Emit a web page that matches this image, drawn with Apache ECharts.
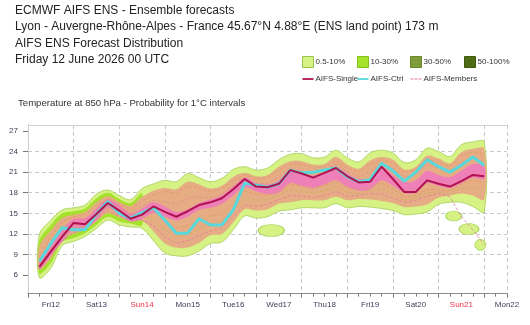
<!DOCTYPE html>
<html>
<head>
<meta charset="utf-8">
<script src="https://cdn.jsdelivr.net/npm/echarts@6/dist/echarts.min.js"></script>
<style>
  html, body { margin: 0; padding: 0; background: #fff; }
  #chart { width: 530px; height: 325px; }
</style>
</head>
<body>
<div id="chart"></div>
<script>
// forecast steps (hours from Fri 12 June 00 UTC)
const hours = [6, 12, 18, 24, 30, 36, 42, 48, 54, 60, 66, 72, 78, 84, 90, 96, 102, 108, 114, 120,
  126, 132, 138, 144, 150, 156, 162, 168, 174, 180, 186, 192, 198, 204, 210, 216, 222, 228, 234, 240];

const dayLabels = ["Fri12", "Sat13", "Sun14", "Mon15", "Tue16", "Wed17", "Thu18", "Fri19", "Sat20", "Sun21", "Mon22"];
const dayLabelHours = [12, 36, 60, 84, 108, 132, 156, 180, 204, 228, 252];
const yTicks = [6, 9, 12, 15, 18, 21, 24, 27];

// AIFS-Single / AIFS-Ctrl
const single = [7.2, 9.4, 11.6, 13.6, 13.4, 14.9, 16.5, 15.4, 14.2, 14.8, 16.0, 15.2, 14.5, 15.3, 16.2, 16.6, 17.2, 18.5, 20.0, 18.9,
  18.8, 19.3, 21.3, 20.8, 20.2, 20.9, 21.6, 20.4, 19.5, 19.6, 21.8, 20.0, 18.1, 18.1, 19.8, 19.3, 18.9, 19.7, 20.6, 20.4];
const ctrl = [8.0, 10.6, 12.9, 12.6, 12.6, 14.9, 16.7, 15.0, 14.3, 15.1, 15.8, 14.0, 12.1, 12.1, 14.2, 13.3, 13.3, 15.5, 19.4, 19.1,
  18.8, 19.3, 21.3, 20.9, 21.0, 21.3, 21.6, 20.3, 19.6, 19.9, 22.3, 21.2, 19.7, 21.0, 22.8, 21.8, 21.0, 22.0, 23.2, 22.0];

// 0.5-10% envelope
const outerHi = [11.9, 14.0, 15.5, 15.8, 16.2, 17.8, 18.4, 17.6, 17.0, 18.6, 19.3, 19.8, 19.6, 20.8, 20.2, 19.6, 20.1, 21.4, 21.8, 21.3,
  21.6, 22.8, 23.6, 23.7, 23.1, 23.2, 24.2, 23.1, 22.5, 23.8, 24.2, 23.8, 22.4, 22.8, 24.5, 24.0, 23.3, 25.0, 25.4, 25.4];
const outerLo = [5.6, 7.0, 10.3, 10.9, 11.6, 12.8, 14.0, 13.3, 13.0, 12.8, 11.0, 9.2, 8.8, 8.8, 9.5, 10.6, 10.8, 12.6, 14.6, 14.3,
  14.5, 15.3, 15.5, 15.8, 15.8, 15.8, 16.4, 15.8, 16.0, 15.9, 15.7, 15.4, 14.8, 14.9, 15.2, 16.3, 16.6, 16.6, 16.0, 15.2];

// 10-30% (visible at the start only)
const tenHours = [6, 12, 18, 24, 30, 36, 42, 48, 54, 60];
const tenHi = [11.0, 13.3, 15.0, 15.3, 15.7, 17.2, 18.0, 17.1, 16.5, 17.9];
const tenLo = [6.2, 7.7, 10.8, 11.4, 12.1, 13.3, 14.5, 13.8, 13.5, 13.3];

// spread of the members
const memberHi = [10.2, 12.5, 14.3, 14.8, 15.2, 16.6, 17.5, 16.7, 16.1, 17.4, 18.3, 18.7, 18.5, 19.6, 19.2, 18.6, 19.0, 20.3, 20.9, 20.4,
  20.6, 21.8, 22.6, 22.6, 22.1, 22.2, 23.2, 22.1, 21.5, 22.7, 23.2, 22.8, 21.4, 21.8, 23.4, 23.0, 22.3, 23.9, 24.4, 24.4];
const memberLo = [6.8, 8.4, 11.4, 12.0, 12.6, 13.8, 15.0, 14.4, 14.0, 13.9, 12.4, 10.6, 10.0, 10.0, 10.7, 11.8, 12.0, 13.7, 15.6, 15.4,
  15.6, 16.4, 16.6, 16.9, 16.9, 16.9, 17.4, 16.9, 17.1, 17.0, 16.8, 16.5, 15.9, 16.0, 16.3, 17.3, 17.6, 17.9, 17.6, 17.0];

// dense core (pink)
const coreHi = [7.9, 10.2, 12.6, 14.2, 14.3, 15.7, 17.0, 16.2, 15.0, 15.7, 16.6, 16.0, 15.2, 15.6, 16.5, 17.0, 17.6, 18.9, 20.2, 19.4,
  19.2, 19.8, 21.2, 20.8, 20.5, 21.0, 21.7, 20.8, 20.0, 20.2, 21.8, 20.6, 19.6, 19.8, 21.2, 20.6, 20.3, 21.2, 22.2, 21.8];
const coreLo = [6.8, 8.8, 10.8, 12.6, 12.7, 14.0, 15.7, 14.8, 13.8, 14.2, 15.0, 14.5, 14.0, 14.5, 15.5, 15.8, 16.4, 17.6, 18.8, 18.2,
  17.8, 18.0, 19.4, 19.0, 18.7, 19.2, 19.8, 18.9, 18.3, 18.5, 19.8, 19.0, 18.0, 18.0, 19.4, 19.0, 18.7, 19.4, 20.2, 20.0];

// a few single members
const memberA = [6.9, 9.0, 11.0, 12.2, 12.8, 14.2, 15.4, 14.6, 14.1, 14.0, 13.2, 11.5, 10.6, 11.0, 11.8, 12.4, 12.9, 14.6, 16.2, 16.0,
  16.3, 17.0, 17.6, 17.5, 17.3, 17.6, 18.2, 17.5, 17.6, 17.9, 17.8, 17.2, 16.6, 16.9, 17.5, 17.9, 17.4, 14.5, 12.6, 10.4];
const memberB = [8.5, 11.6, 13.8, 14.5, 14.8, 16.1, 17.1, 16.4, 15.6, 16.8, 17.7, 18.2, 17.9, 19.0, 18.7, 18.1, 18.6, 19.8, 20.6, 20.0,
  20.2, 21.3, 22.2, 22.1, 21.6, 21.8, 22.7, 21.6, 21.0, 22.2, 22.8, 22.3, 20.9, 21.4, 23.0, 22.4, 21.8, 23.4, 24.0, 23.6];
const memberC = [7.4, 9.8, 12.0, 13.2, 13.6, 14.8, 16.2, 15.6, 14.8, 15.2, 15.4, 13.8, 12.9, 13.2, 13.9, 14.6, 14.9, 16.4, 18.2, 17.8,
  17.6, 18.3, 19.2, 19.0, 18.6, 19.1, 19.6, 18.7, 18.4, 18.9, 19.4, 18.6, 17.4, 17.6, 18.5, 18.4, 18.2, 19.3, 19.8, 19.5];
const memberD = [7.0, 9.2, 11.5, 12.8, 13.1, 14.5, 15.9, 15.1, 14.4, 14.6, 14.2, 12.6, 11.6, 11.9, 12.8, 13.4, 13.9, 15.5, 17.2, 16.9,
  17.0, 17.6, 18.4, 18.2, 18.0, 18.3, 18.9, 18.1, 17.9, 18.4, 18.6, 17.9, 16.9, 17.2, 18.0, 18.1, 17.8, 18.6, 18.9, 18.3];
const memberE = [7.7, 10.4, 12.8, 13.9, 14.1, 15.4, 16.7, 15.9, 15.2, 16.0, 16.9, 16.7, 16.3, 17.2, 17.4, 17.2, 17.8, 19.0, 19.6, 19.3,
  19.4, 20.3, 21.5, 21.2, 20.9, 21.3, 22.1, 21.1, 20.4, 21.1, 22.2, 21.6, 20.3, 20.7, 22.2, 21.6, 21.1, 22.4, 23.1, 22.6];

// isolated 0.5-10% patches [hour, degC]
const islands = [[128, 12.5], [224, 14.6], [232, 12.7], [238, 10.4]];

const FONT = "Liberation Sans";
const islandSizes = [[26, 12], [16, 10], [20, 11], [11, 11]];

function pairs(xs, ys) {
  return xs.map((h, i) => [h, ys[i]]);
}

// filled band between lo and hi, drawn as one smoothed polygon
function band(name, xs, lo, hi, fill, edge) {
  return {
    name: name,
    type: "custom",
    silent: true,
    itemStyle: { color: fill },
    encode: { x: 0, y: [1, 2] },
    data: xs.map((h, i) => [h, lo[i], hi[i]]),
    renderItem: function (params, api) {
      if (params.dataIndex !== 0) return null;
      const top = xs.map((h, i) => api.coord([h, hi[i]]));
      const bot = xs.map((h, i) => api.coord([h, lo[i]])).reverse();
      return {
        type: "polygon",
        shape: { points: top.concat(bot), smooth: 0.35 },
        style: { fill: fill, stroke: edge || null, lineWidth: edge ? 0.8 : 0 },
      };
    },
  };
}

function memberLine(ys, color) {
  return {
    name: "AIFS-Members",
    type: "line",
    symbol: "none",
    silent: true,
    itemStyle: { color: "#e27aa2" },
    lineStyle: { color: color, width: 0.8, type: [3, 2] },
    data: pairs(hours, ys),
  };
}

const lineIcon = "path://M0,0M11,11M0,4.6h11v1.8h-11z";
const dashIcon = "path://M0,0M11,11M0,4.9h3v1.2h-3zM4,4.9h3v1.2h-3zM8,4.9h3v1.2h-3z";

// one legend per column (two rows)
function legendColumn(left, items) {
  return {
    data: items,
    orient: "vertical",
    left: left,
    top: 56,
    padding: 0,
    itemWidth: 11,
    itemHeight: 11,
    itemGap: 5.5,
    selectedMode: false,
    textStyle: { fontFamily: FONT, fontSize: 8, color: "#333", padding: [0, 0, 0, -3] },
  };
}

let myChart = echarts.init(document.getElementById("chart"));

const option = {
  animation: false,
  textStyle: { fontFamily: FONT },
  title: [
    {
      text: "ECMWF AIFS ENS - Ensemble forecasts\nLyon - Auvergne-Rhône-Alpes - France 45.67°N 4.88°E (ENS land point) 173 m\nAIFS ENS Forecast Distribution\nFriday 12 June 2026 00 UTC",
      left: 15,
      top: 2,
      padding: 0,
      textStyle: { fontFamily: FONT, fontSize: 12, fontWeight: "normal", color: "#222", lineHeight: 16.6 },
    },
    {
      text: "Temperature at 850 hPa - Probability for 1°C intervals",
      left: 18,
      top: 98,
      padding: 0,
      textStyle: { fontFamily: FONT, fontSize: 9.6, fontWeight: "normal", color: "#333" },
    },
  ],
  legend: [
    legendColumn(302, [
      { name: "0.5-10%", icon: "rect", itemStyle: { color: "#d6f285", borderColor: "#98c24a", borderWidth: 1 } },
      { name: "AIFS-Single", icon: lineIcon, itemStyle: { color: "#b0124f" } },
    ]),
    legendColumn(357, [
      { name: "10-30%", icon: "rect", itemStyle: { color: "#a4e22c", borderColor: "#86c01c", borderWidth: 1 } },
      { name: "AIFS-Ctrl", icon: lineIcon, itemStyle: { color: "#56d8dc" } },
    ]),
    legendColumn(410, [
      { name: "30-50%", icon: "rect", itemStyle: { color: "#7e9c38", borderColor: "#6a8a2a", borderWidth: 1 } },
      { name: "AIFS-Members", icon: dashIcon, itemStyle: { color: "#e27aa2" } },
    ]),
    legendColumn(464, [
      { name: "50-100%", icon: "rect", itemStyle: { color: "#4e6c16", borderColor: "#3e5a0e", borderWidth: 1 } },
    ]),
  ],
  grid: { left: 28, right: 23, top: 125, bottom: 29.4, containLabel: false },
  xAxis: [
    {
      type: "value",
      min: 0,
      max: 252,
      interval: 24,
      offset: -2,
      axisLine: { lineStyle: { color: "#8a8a8a", width: 1 } },
      axisTick: { show: true, length: 4, lineStyle: { color: "#777" } },
      minorTick: { show: true, splitNumber: 4, length: 3, lineStyle: { color: "#777" } },
      splitLine: { show: true, lineStyle: { color: "#c8c8c8", type: [4, 3] } },
      axisLabel: {
        customValues: dayLabelHours,
        margin: 7,
        fontSize: 8,
        color: "#3c3c5a",
        fontFamily: FONT,
        formatter: function (v) {
          const t = dayLabels[dayLabelHours.indexOf(v)];
          return t.indexOf("Sun") === 0 ? "{sun|" + t + "}" : t;
        },
        rich: { sun: { color: "#e8334a", fontSize: 8, fontFamily: FONT } },
      },
    },
    {
      type: "value",
      position: "top",
      min: 0,
      max: 252,
      axisLine: { show: true, lineStyle: { color: "#cfcfcf" } },
      axisTick: { show: false },
      axisLabel: { show: false },
      splitLine: { show: false },
    },
  ],
  yAxis: [
    {
      type: "value",
      min: 3,
      max: 27.875,
      interval: 3,
      axisLine: { show: true, lineStyle: { color: "#8a8a8a" } },
      axisTick: { show: true, length: 5, customValues: yTicks, lineStyle: { color: "#777" } },
      splitLine: { show: true, showMinLine: false, showMaxLine: false, lineStyle: { color: "#c8c8c8", type: [4, 3] } },
      axisLabel: { customValues: yTicks, margin: 10, fontSize: 8, color: "#3c3c5a", fontFamily: FONT },
    },
    {
      type: "value",
      position: "right",
      min: 3,
      max: 27.875,
      axisLine: { show: true, lineStyle: { color: "#cfcfcf" } },
      axisTick: { show: false },
      axisLabel: { show: false },
      splitLine: { show: false },
    },
  ],
  series: [
    band("0.5-10%", hours, outerLo, outerHi, "#d6f285", "#a3cf55"),
    band("10-30%", tenHours, tenLo, tenHi, "#a4e22c", null),
    band("members-spread", hours, memberLo, memberHi, "#e6ac84", null),
    band("core", hours, coreLo, coreHi, "#ef80b7", null),
    { name: "30-50%", type: "line", itemStyle: { color: "#7e9c38" }, data: [] },
    { name: "50-100%", type: "line", itemStyle: { color: "#4e6c16" }, data: [] },
    {
      name: "islands",
      type: "scatter",
      symbol: "circle",
      silent: true,
      symbolSize: function (v, p) {
        return islandSizes[p.dataIndex];
      },
      itemStyle: { color: "#d6f285", borderColor: "#a3cf55", borderWidth: 0.8, opacity: 1 },
      data: islands,
    },
    memberLine(memberA, "#e27aa2"),
    memberLine(memberB, "#e0946a"),
    memberLine(memberC, "#d99a5c"),
    memberLine(memberD, "#c9b15a"),
    memberLine(memberE, "#e68a8a"),
    {
      name: "AIFS-Ctrl",
      type: "line",
      symbol: "none",
      itemStyle: { color: "#56d8dc" },
      lineStyle: { color: "#56d8dc", width: 3 },
      data: pairs(hours, ctrl),
    },
    {
      name: "AIFS-Single",
      type: "line",
      symbol: "none",
      itemStyle: { color: "#b0124f" },
      lineStyle: { color: "#b0124f", width: 2 },
      data: pairs(hours, single),
    },
  ],
};

myChart.setOption(option);
window.onresize = function () {
  myChart.resize();
};
</script>
</body>
</html>
